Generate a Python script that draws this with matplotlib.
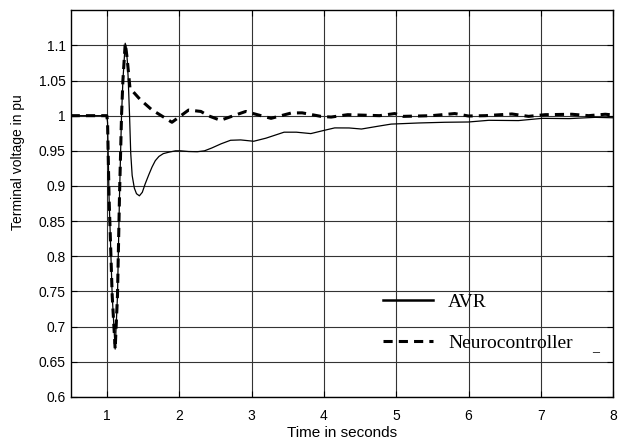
import numpy as np
import matplotlib.pyplot as plt

# AVR response
t_avr = [0.5, 1.0, 1.01, 1.03, 1.074, 1.115, 1.147, 1.175, 1.203, 1.222, 1.254,
         1.27, 1.285, 1.296, 1.314, 1.33, 1.35, 1.38, 1.41, 1.45, 1.49, 1.53,
         1.58, 1.625, 1.67, 1.72, 1.78, 1.855, 1.95, 2.02, 2.13, 2.25, 2.35,
         2.45, 2.58, 2.71, 2.85, 3.03, 3.2, 3.45, 3.62, 3.82, 4.0, 4.15, 4.35,
         4.52, 4.75, 4.93, 5.31, 5.67, 6.0, 6.28, 6.69, 7.02, 7.39, 7.75, 8.0]
v_avr = [1.0, 1.0, 0.99, 0.886, 0.744, 0.668, 0.744, 0.886, 1.0, 1.05, 1.103,
         1.095, 1.075, 1.05, 1.0, 0.947, 0.915, 0.897, 0.889, 0.886, 0.891,
         0.903, 0.916, 0.927, 0.936, 0.942, 0.946, 0.948, 0.950, 0.950, 0.949,
         0.9487, 0.950, 0.954, 0.960, 0.965, 0.9655, 0.9636, 0.968, 0.9765,
         0.9765, 0.9745, 0.979, 0.9826, 0.9825, 0.981, 0.985, 0.988, 0.9896,
         0.9906, 0.991, 0.9934, 0.993, 0.9962, 0.9958, 0.9976, 0.997]

# Neurocontroller response
t_nc = [0.5, 1.0, 1.01, 1.03, 1.074, 1.115, 1.147, 1.175, 1.203, 1.222, 1.254,
        1.278, 1.32, 1.46, 1.62, 1.9, 2.13, 2.3, 2.4, 2.57, 2.92, 3.08, 3.27,
        3.55, 3.7, 3.96, 4.1, 4.33, 4.77, 4.98, 5.1, 5.49, 5.81, 6.0, 6.23,
        6.6, 6.83, 7.06, 7.43, 7.66, 7.89, 8.0]
v_nc = [1.0, 1.0, 0.99, 0.886, 0.744, 0.668, 0.744, 0.886, 1.0, 1.05, 1.103,
        1.084, 1.039, 1.023, 1.0085, 0.9906, 1.008, 1.006, 1.0, 0.9934, 1.006,
        1.0014, 0.9962, 1.0038, 1.004, 0.999, 0.998, 1.0014, 1.0, 1.003, 0.999,
        1.0, 1.003, 0.9995, 1.0, 1.0024, 0.999, 1.0014, 1.002, 1.0, 1.002, 1.001]

x_ticks = [1, 2, 3, 4, 5, 6, 7, 8]
y_ticks = [0.6, 0.65, 0.7, 0.75, 0.8, 0.85, 0.9, 0.95, 1.0, 1.05, 1.1]
y_labels = ['0.6', '0.65', '0.7', '0.75', '0.8', '0.85', '0.9', '0.95', '1', '1.05', '1.1']

plt.rcParams['font.family'] = 'Liberation Sans'

fig = plt.figure(figsize=(6.2, 4.43), dpi=100)
ax = fig.add_axes([0.114, 0.104, 0.875, 0.873])

ax.plot(t_avr, v_avr, color='black', lw=0.9, label='AVR')
ax.plot(t_nc, v_nc, color='black', lw=2.2, ls=(0, (3, 2)), label='Neurocontroller')

ax.set_xlim(0.5, 8)
ax.set_ylim(0.6, 1.15)
ax.set_xticks(x_ticks)
ax.set_yticks(y_ticks)
ax.set_yticklabels(y_labels)
ax.tick_params(direction='in', top=True, right=True, labelsize=10, length=4)
ax.tick_params(axis='x', pad=9)
ax.grid(True, color='#333333', lw=0.8)
for s in ax.spines.values():
    s.set_linewidth(1.0)

ax.set_xlabel('Time in seconds', fontsize=11, labelpad=2)
ax.set_ylabel('Terminal voltage in pu', fontsize=10)
ax.yaxis.set_label_coords(-0.085, 0.607)

h1, = ax.plot([], [], color='black', lw=1.8)
h2, = ax.plot([], [], color='black', lw=2.2, ls=(0, (3, 2)))
ax.legend([h1, h2], ['AVR', 'Neurocontroller'], loc='upper left',
          bbox_to_anchor=(0.558, 0.293), frameon=False, borderpad=0,
          handlelength=2.57, handletextpad=0.77, labelspacing=1.22,
          prop={'family': 'Liberation Serif', 'size': 14})
ax.text(0.962, 0.118, '_', transform=ax.transAxes, fontsize=10,
        family='Liberation Serif', va='baseline')

fig.savefig('out.png', dpi=100)
